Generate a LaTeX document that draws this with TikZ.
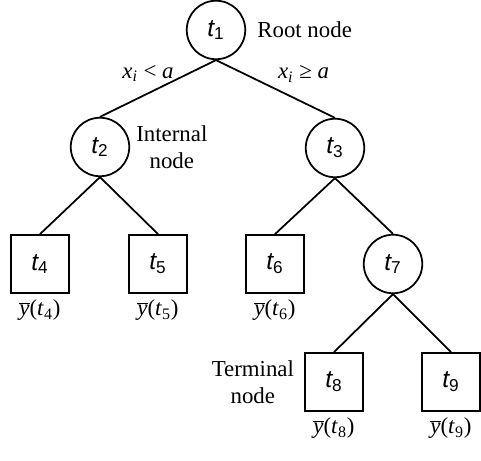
\documentclass[tikz,border=0pt]{standalone}
\usepackage{fontspec}
\setmainfont{Liberation Serif}
\newfontfamily\tfont{Liberation Sans}
\usetikzlibrary{positioning}
\newcommand{\tname}[1]{{\tfont\itshape t}\textsubscript{\tfont #1}}
\newcommand{\ymean}[1]{$\overline{\mbox{\textit{y}}}$(\textit{t}\textsubscript{#1})}

\begin{document}
\begin{tikzpicture}
[font=\fontsize{13}{15.5}\selectfont,
 circ/.style={circle,draw=black,line width=1pt,inner sep=0pt,minimum size=1.17cm,font=\fontsize{14}{16}\selectfont},
 leaf/.style={rectangle,draw=black,line width=1pt,inner sep=0pt,minimum size=1.16cm,font=\fontsize{14}{16}\selectfont},
 edge/.style={black,line width=1pt}]
\useasboundingbox (0,0) rectangle (9.62,9.22);

\node[circ,label={[label distance=0.1cm]right:{Root node}}] (t1) at (4.32,8.62) {\tname{1}};

\node[circ,label={[align=center]right:{Internal\\node}}] (t2) at (2.00,6.28) {\tname{2}};
\node[circ] (t3) at (6.70,6.26) {\tname{3}};

\node[leaf,label=below:{\ymean{4}}] (t4) at (0.80,3.94) {\tname{4}};
\node[leaf,label=below:{\ymean{5}}] (t5) at (3.16,3.94) {\tname{5}};
\node[leaf,label=below:{\ymean{6}}] (t6) at (5.50,3.94) {\tname{6}};
\node[circ] (t7) at (7.86,3.94) {\tname{7}};

\node[leaf,label=below:{\ymean{8}},label={[align=center,label distance=0.08cm]left:{Terminal\\node}}] (t8) at (6.68,1.58) {\tname{8}};
\node[leaf,label=below:{\ymean{9}}] (t9) at (9.02,1.58) {\tname{9}};

\draw [edge] (t1.south) -- (t2.north) node [midway,above,xshift=-0.2cm] {\textit{x}\textsubscript{\textit{i}} < \textit{a}};
\draw [edge] (t1.south) -- (t3.north) node [midway,above,xshift=0.56cm] {\textit{x}\textsubscript{\textit{i}} ≥ \textit{a}};

\draw [edge] (t2.south) -- (t4.north);
\draw [edge] (t2.south) -- (t5.north);
\draw [edge] (t3.south) -- (t6.north);
\draw [edge] (t3.south) -- (t7.north);
\draw [edge] (t7.south) -- (t8.north);
\draw [edge] (t7.south) -- (t9.north);
\end{tikzpicture}
\end{document}
